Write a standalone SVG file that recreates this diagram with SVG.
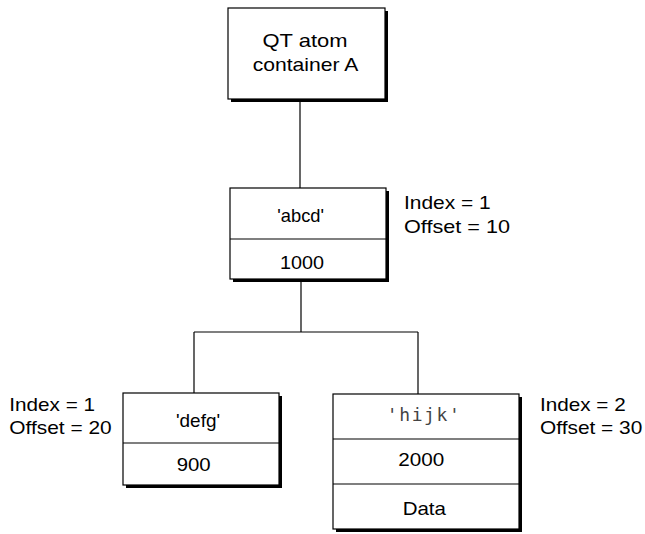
<svg xmlns="http://www.w3.org/2000/svg" width="645" height="534" viewBox="0 0 645 534">
<style>
.box{fill:#fff;stroke:#000;stroke-width:1.2}
.sh{fill:#000}
.div{stroke:#000;stroke-width:1.2}
.t{font-family:"Liberation Sans",Arial,sans-serif;font-size:18.5px;fill:#000}
.c{text-anchor:middle}
.m{font-family:"DejaVu Sans Mono","Liberation Mono",monospace;font-size:18px;fill:#444}
.ln{stroke:#000;stroke-width:1.2;fill:none}
</style>
<g id="connectors">
<path class="ln" d="M300 102V188"/>
<path class="ln" d="M301 282V332"/>
<path class="ln" d="M194 332H418"/>
<path class="ln" d="M194 332V393"/>
<path class="ln" d="M418 332V394"/>
</g>
<g id="container">
<rect class="sh" x="231" y="11" width="157" height="91"/>
<rect class="box" x="228" y="8" width="157" height="91"/>
<text class="t c" x="305" y="47" textLength="85" lengthAdjust="spacingAndGlyphs">QT atom</text>
<text class="t c" x="305.5" y="71" textLength="105.5" lengthAdjust="spacingAndGlyphs">container A</text>
</g>
<g id="abcd">
<rect class="sh" x="233" y="191" width="156" height="91"/>
<rect class="box" x="230" y="188" width="156" height="91"/>
<line class="div" x1="230" y1="239" x2="386" y2="239"/>
<text class="t c" x="300.7" y="222" textLength="46.7" lengthAdjust="spacingAndGlyphs">'abcd'</text>
<text class="t c" x="302" y="269" textLength="44" lengthAdjust="spacingAndGlyphs">1000</text>
<text class="t" x="404" y="208.5" textLength="86.7" lengthAdjust="spacingAndGlyphs">Index = 1</text>
<text class="t" x="404" y="232.5" textLength="106" lengthAdjust="spacingAndGlyphs">Offset = 10</text>
</g>
<g id="defg">
<rect class="sh" x="126" y="396" width="156" height="92"/>
<rect class="box" x="123" y="393" width="156" height="92"/>
<line class="div" x1="123" y1="443" x2="279" y2="443"/>
<text class="t c" x="198" y="427" textLength="44" lengthAdjust="spacingAndGlyphs">'defg'</text>
<text class="t c" x="193.7" y="470.5" textLength="34" lengthAdjust="spacingAndGlyphs">900</text>
<text class="t" x="9.3" y="410.7" textLength="85.7" lengthAdjust="spacingAndGlyphs">Index = 1</text>
<text class="t" x="9.3" y="434.3" textLength="102.4" lengthAdjust="spacingAndGlyphs">Offset = 20</text>
</g>
<g id="hijk">
<rect class="sh" x="336" y="397" width="186" height="135"/>
<rect class="box" x="333" y="394" width="186" height="135"/>
<line class="div" x1="333" y1="439" x2="519" y2="439"/>
<line class="div" x1="333" y1="484" x2="519" y2="484"/>
<text class="m c" x="423.3" y="421" textLength="73.3" lengthAdjust="spacing">'hijk'</text>
<text class="t c" x="421.3" y="465.7" textLength="46" lengthAdjust="spacingAndGlyphs">2000</text>
<text class="t c" x="424.3" y="515" textLength="43.3" lengthAdjust="spacingAndGlyphs">Data</text>
<text class="t" x="540" y="410.7" textLength="85.7" lengthAdjust="spacingAndGlyphs">Index = 2</text>
<text class="t" x="540" y="434.3" textLength="102.3" lengthAdjust="spacingAndGlyphs">Offset = 30</text>
</g>
</svg>
